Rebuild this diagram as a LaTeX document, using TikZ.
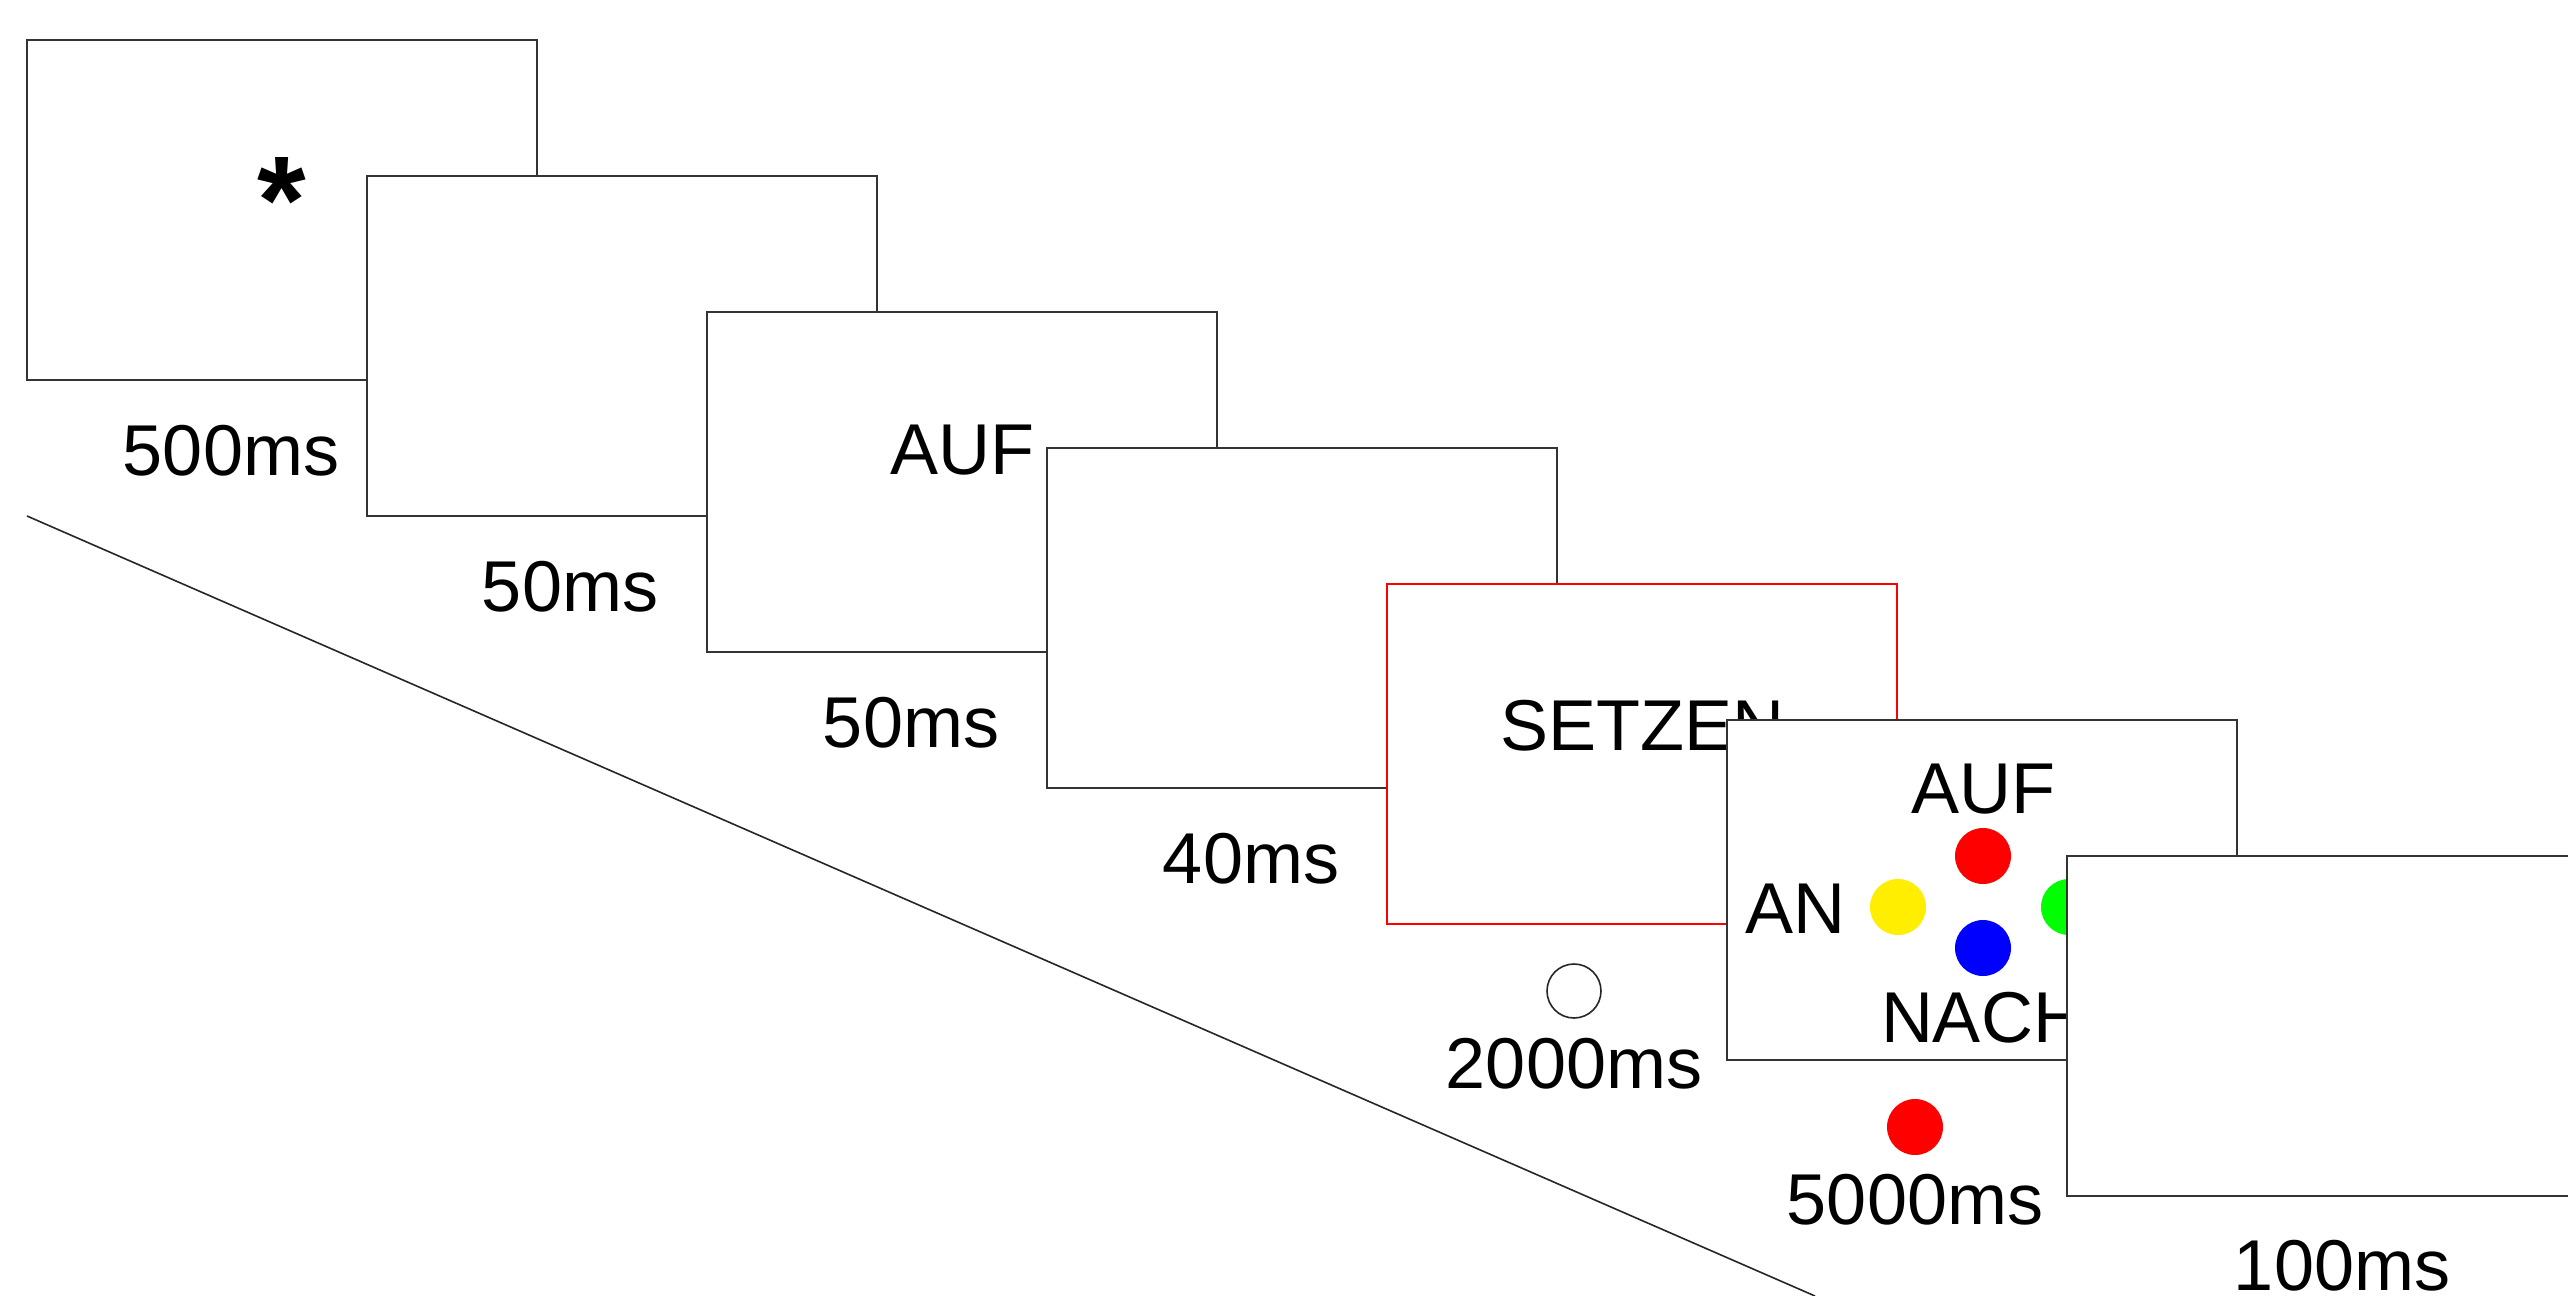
\documentclass[tikz,border=0pt]{standalone}
\usepackage{fontspec}
\setmainfont{Liberation Sans}
\begin{document}
\begin{tikzpicture}[x=1pt,y=-1pt,
  frame/.style={draw=black!80, line width=2pt, fill=white, minimum width=510pt,
    minimum height=340pt, anchor=north west, inner sep=0pt, outer sep=0pt},
  redframe/.style={frame, draw=red},
  lab/.style={font=\fontsize{72}{86}\selectfont, anchor=base, inner sep=0pt},
  dot/.style={circle, minimum size=56pt, inner sep=0pt},
  ring/.style={circle, draw=black!85, line width=1.6pt, minimum size=54pt, inner sep=0pt},
  timeline/.style={draw=black!85, line width=1.6pt}]
\useasboundingbox (0,0) rectangle (2568,1296);
\clip (0,0) rectangle (2568,1296);

% time axis
\coordinate (t0) at (27,516);
\coordinate (t1) at (1815,1296);
\draw[timeline] (t0) -- (t1);

% frame 1: fixation
\node[frame] (b1) at (27,40) {};
\node[anchor=base, inner sep=0pt, font=\fontsize{125}{150}\selectfont\bfseries] (ast) at (282,243) {*};
\node[lab] (l1) at (231,475) {500ms};

% frame 2: blank
\node[frame] (b2) at (367,176) {};
\node[lab] (l2) at (570,611) {50ms};

% frame 3: prime
\node[frame] (b3) at (707,312) {};
\node[lab] (p3) at (962,474) {AUF};
\node[lab] (l3) at (911,747) {50ms};

% frame 4: blank
\node[frame] (b4) at (1047,448) {};
\node[lab] (l4) at (1251,883) {40ms};

% frame 5: verb
\node[redframe] (b5) at (1387,584) {};
\node[lab] (p5) at (1642,750) {SETZEN};
\node[ring] (r5) at (1574,991) {};
\node[lab] (l5) at (1574,1088) {2000ms};

% frame 6: response display
\node[frame] (b6) at (1727,720) {};
\node[lab] (w6a) at (1983,813) {AUF};
\node[lab] (w6b) at (1795,933) {AN};
\node[lab] (w6c) at (1983,1042) {NACH};
\node[dot, fill=red] (dr) at (1983,856) {};
\node[dot, fill={rgb,255:red,255;green,238;blue,0}] (dy) at (1898,907) {};
\node[dot, fill={rgb,255:red,0;green,255;blue,0}] (dg) at (2069,907) {};
\node[dot, fill=blue] (db) at (1983,948) {};
\node[dot, fill=red] (d6) at (1915,1127) {};
\node[lab] (l6) at (1915,1224) {5000ms};

% frame 7: blank
\node[frame] (b7) at (2067,856) {};
\node[lab] (l7) at (2342,1290) {100ms};
\end{tikzpicture}
\end{document}
